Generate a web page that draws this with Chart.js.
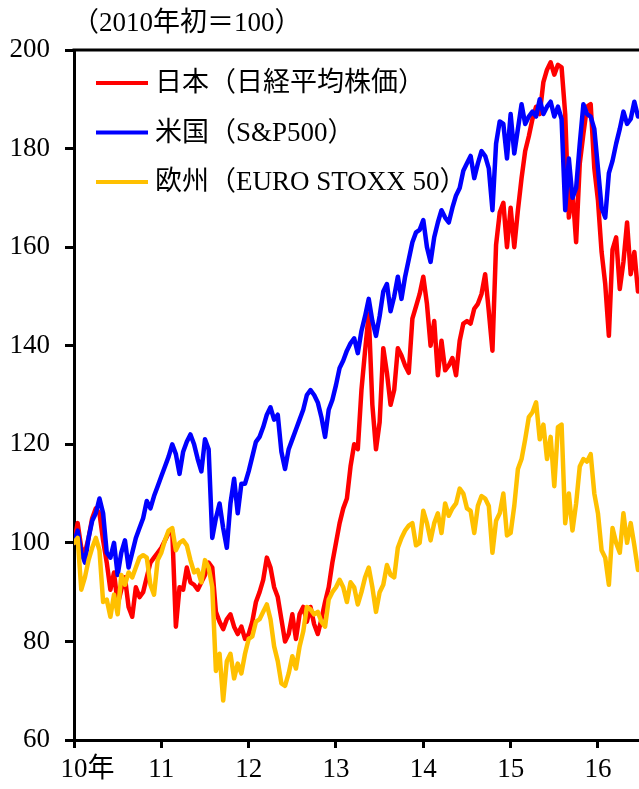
<!DOCTYPE html>
<html lang="ja">
<head>
<meta charset="UTF-8">
<title>日米欧の株価</title>
<script src="https://cdn.jsdelivr.net/npm/chart.js@4.4.0/dist/chart.umd.min.js"></script>
<style>
  html, body { margin: 0; padding: 0; background: #fff; }
  #wrap { width: 639px; height: 789px; position: relative; }
</style>
</head>
<body>
<div id="wrap"><canvas id="myChart"></canvas></div>
<script>
// half-month readings from 2010 start, index k -> year 2010 + k/24
var jpVals = [100,104,99,98,101,105,107,106,100.5,96,90.5,94,87.5,90.5,93,87,85,91,89,90,93,96,97,98,
  99,100.5,102,102.5,83,91,90.5,95,92,91.5,90.5,92,93.5,96,95,86,84,82.5,84.5,85.5,83,81.5,83,80.5,
  81.5,84,88,90,92.5,97,95,91,89,84.5,80,81.5,85.5,80.5,85.5,87,84,87,83.5,81.5,84.5,88,91,96,
  100,104,107,109,115.5,120,119,131,139,146.5,128,119,124.5,139.5,134.5,128,131,139.5,138,136,134.5,145.5,148,150.5,
  154,148.5,140,145,134,141,135,136,137.5,134,141,144.5,145,144.5,147.5,148.5,150.5,154.5,147,139,160.5,167,169,160,
  168,160,167.5,174,179.5,182.5,186,188.5,187,193.5,196,197.5,195,197,196.5,187,166,171.5,161,177,183,188.5,189,176,
  169.5,159,152.5,142,159.5,162,151.5,157,165,154.5,159,151];
var usVals = [100,102.5,98,96,101,104.5,106,109,106,98,97,100,93.5,98,100.5,95,98,101,103,105,108.5,107,109.5,111.5,
  113.5,115.5,117.5,120,118,114,118.5,120.5,122,120,117,114.5,121,119,101,105,108,103,99,108,113,106,112,112,
  114.5,117.5,120.5,121.5,123.5,126,127.5,125,126,118.5,115,119,121,123,125,127,130,131,130,128.5,125.5,121.5,127,129,
  132,135.5,137,139,140.5,141.5,138.5,143,146,149.5,145,142,146,151,152.5,147,150,154,149.5,154,157.5,161,163,163.5,
  165.5,160,157,162,165,167.5,166,165,168,170.5,172,175.5,177,178.5,174,177,179.5,178.5,176,167.5,181,185.5,185,178,
  187,179,184,189,185,186.5,187.5,186.5,190,187,188.5,189.5,186.5,188.5,186,167.5,178,170,172,181,189,187,186.5,184,
  176,168,166,175,177.5,181,184,187.5,185,186,189.5,186.5];
var euVals = [100,101,90.5,93,96.5,99,101,98.5,88,88.5,85,89.5,85.5,93.5,91.5,94,93,95,97,97.5,97,91.5,89.5,96.5,
  98,100.5,102.5,103,98.5,100,100.5,99.5,96.5,94,94.5,92,96.5,95,91,74,77.5,68,76,77.5,72.5,75.5,73.5,77.5,
  80.5,81,84,84.5,86,87.5,84.5,79,76,71.5,71,73.5,77,74.5,79,82,87,86.5,85.5,86,84,83,88.5,90,
  91,92.5,91,88,92,91,87.5,90,93,95,91,86,90,91.5,95.5,93.5,93,99,101,102.5,103.5,104,99.5,100,
  106.5,104,100.5,104,106,102,108,105.5,107,108,111,110,107,106.5,102,107.5,109.5,109,107.5,98,104.5,106,110,101.5,
  102,107.5,115,117,121,125.5,126.5,128.5,121,124,117,121.5,111.5,123.5,124,104,110,102.5,108,115.5,117,116.5,118,110,
  106,98.5,97,91.5,103,100,98,106,100,104,99.5,94.5];
var yearLabels = ['10', '11', '12', '13', '14', '15', '16'];
var seriesNames = ['日本（日経平均株価）', '米国（S&P500）', '欧州（EURO STOXX 50）'];
var seriesColors = ['#ff0000', '#0000ff', '#ffc000'];

var FONT = '"Liberation Serif", "Noto Sans CJK JP", serif';

function toPoints(vals) {
    var pts = [];
    for (var i = 0; i < vals.length; i++) {
        pts.push({x: i / 24, y: vals[i]});
    }
    return pts;
}

// title, legend, top frame line and the 年 after the first year label
var extras = {
    id: 'extras',
    afterDraw: function(chart) {
        var ctx = chart.ctx;
        var area = chart.chartArea;
        var xs = chart.scales.x;
        ctx.save();
        ctx.strokeStyle = '#000';
        ctx.lineWidth = 3;
        ctx.beginPath();
        ctx.moveTo(area.left - 1.5, area.top);
        ctx.lineTo(area.right, area.top);
        ctx.stroke();

        ctx.fillStyle = '#000';
        ctx.textBaseline = 'middle';
        ctx.textAlign = 'left';
        ctx.font = '27px ' + FONT;
        ctx.fillText('（2010年初＝100）', 72, 24);

        for (var i = 0; i < seriesNames.length; i++) {
            var y = 83 + i * 49.5;
            ctx.strokeStyle = seriesColors[i];
            ctx.lineWidth = 4;
            ctx.beginPath();
            ctx.moveTo(96, y);
            ctx.lineTo(148, y);
            ctx.stroke();
            ctx.fillText(seriesNames[i], 155, y + 1);
        }

        var x0 = xs.getPixelForValue(0);
        var w = ctx.measureText(yearLabels[0]).width;
        var ly = xs.top + 8 + 6 + 27 * 1.2 / 2;
        ctx.fillText('年', x0 + w / 2, ly);
        ctx.restore();
    }
};

var ctx = document.getElementById('myChart').getContext('2d');
var chart = new Chart(ctx, {
    type: 'line',
    data: {
        datasets: [
            {label: seriesNames[0], data: toPoints(jpVals), borderColor: seriesColors[0], order: 3},
            {label: seriesNames[1], data: toPoints(usVals), borderColor: seriesColors[1], order: 2},
            {label: seriesNames[2], data: toPoints(euVals), borderColor: seriesColors[2], order: 1}
        ]
    },
    options: {
        responsive: true,
        maintainAspectRatio: false,
        animation: false,
        layout: {padding: {top: 50, right: 0, left: 0, bottom: 0}},
        elements: {
            line: {borderWidth: 4.5, tension: 0, borderJoinStyle: 'round', borderCapStyle: 'round'},
            point: {radius: 0}
        },
        plugins: {legend: {display: false}, tooltip: {enabled: false}},
        scales: {
            x: {
                type: 'linear',
                min: 0,
                max: 6.47,
                afterFit: function(s) { s.height = 49; },
                afterBuildTicks: function(s) {
                    s.ticks = yearLabels.map(function(l, i) { return {value: i}; });
                },
                ticks: {
                    callback: function(v) { return yearLabels[v]; },
                    color: '#000',
                    font: {family: FONT, size: 27},
                    padding: 6,
                    maxRotation: 0,
                    autoSkip: false
                },
                grid: {drawOnChartArea: false, drawTicks: true, tickLength: 8, tickWidth: 3, tickColor: '#000'},
                border: {display: true, color: '#000', width: 3}
            },
            y: {
                min: 60,
                max: 200,
                afterFit: function(s) { s.width = 74; },
                ticks: {
                    stepSize: 20,
                    color: '#000',
                    font: {family: FONT, size: 27},
                    padding: 15
                },
                grid: {drawOnChartArea: false, drawTicks: true, tickLength: 9, tickWidth: 3, tickColor: '#000'},
                border: {display: true, color: '#000', width: 3}
            }
        }
    },
    plugins: [extras]
});
</script>
</body>
</html>
